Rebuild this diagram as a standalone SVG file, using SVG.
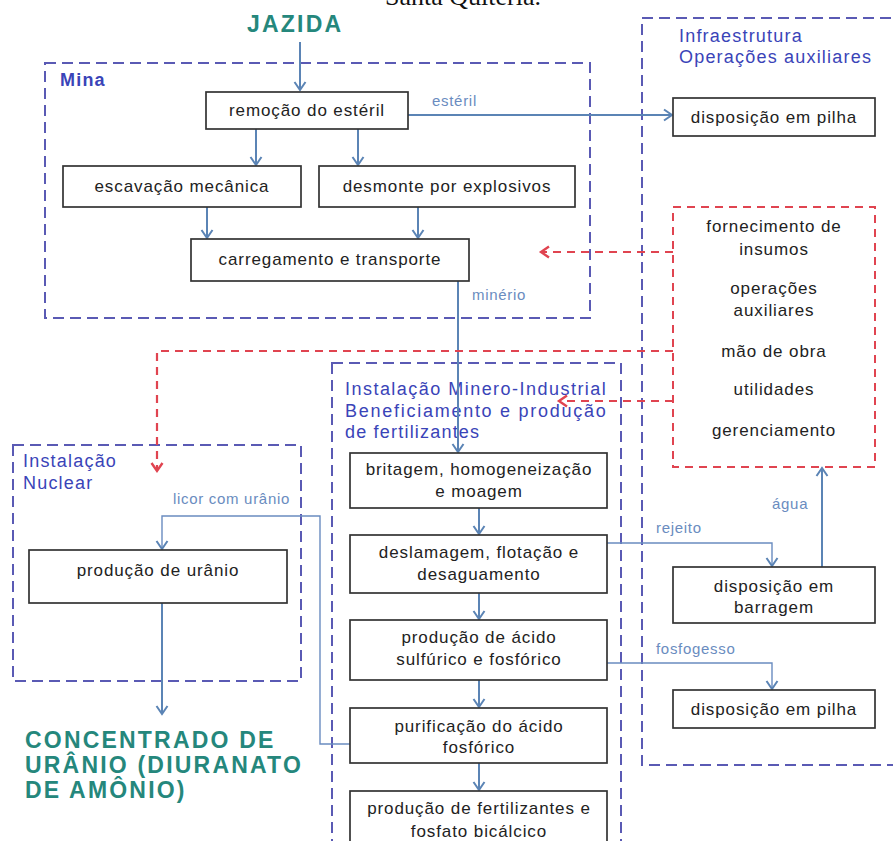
<svg xmlns="http://www.w3.org/2000/svg" width="893" height="841" viewBox="0 0 893 841">
<defs>
<style>
.box{fill:#fff;stroke:#333;stroke-width:1.7}
.grp{fill:none;stroke:#5a5ab4;stroke-width:2;stroke-dasharray:11 6}
.red{fill:none;stroke:#e04450;stroke-width:2;stroke-dasharray:8 6}
.t{font-family:"Liberation Sans",Arial,sans-serif;font-size:17px;letter-spacing:0.9px;fill:#222;text-anchor:middle}
.title{font-family:"Liberation Sans",Arial,sans-serif;font-size:18px;letter-spacing:1.2px;fill:#3a44b8}
.lbl{font-family:"Liberation Sans",Arial,sans-serif;font-size:15px;letter-spacing:0.7px;fill:#6a8cc0}
.big{font-family:"Liberation Sans",Arial,sans-serif;font-size:23px;font-weight:bold;letter-spacing:2.2px;fill:#25877c}
.c{fill:none;stroke:#5b84b5;stroke-width:2}
.c1{fill:none;stroke:#6a8cc0;stroke-width:1.4}
.cr{fill:none;stroke:#e04450;stroke-width:2.2;stroke-dasharray:8 6}
</style>
<marker id="a" markerUnits="userSpaceOnUse" markerWidth="14" markerHeight="14" refX="11" refY="7" orient="auto"><path d="M3,1.5 L11,7 L3,12.5" fill="none" stroke="#5b84b5" stroke-width="2"/></marker>
<marker id="ar" markerUnits="userSpaceOnUse" markerWidth="14" markerHeight="14" refX="11" refY="7" orient="auto"><path d="M3,1.5 L11,7 L3,12.5" fill="none" stroke="#e04450" stroke-width="2.4"/></marker>
</defs>
<rect width="893" height="841" fill="#fff"/>
<text x="385" y="5" font-family="Liberation Serif,serif" font-size="26" fill="#111">Santa Quitéria.</text>

<g id="groups">
<g id="mina"><rect class="grp" x="45" y="63" width="545" height="255"/><text class="title" x="60" y="86" font-weight="bold" fill="#2e3aa6">Mina</text></g>
<g id="infra"><rect class="grp" x="642" y="18" width="256" height="747" stroke="#6464d0"/><text class="title" x="679" y="42">Infraestrutura</text><text class="title" x="679" y="63">Operações auxiliares</text></g>
<g id="nuclear"><rect class="grp" x="13" y="445" width="288" height="236"/><text class="title" x="23" y="467">Instalação</text><text class="title" x="23" y="489">Nuclear</text></g>
<g id="minero"><rect class="grp" x="332" y="363" width="289" height="490"/><text class="title" x="345" y="395" textLength="262" lengthAdjust="spacing">Instalação Minero-Industrial</text><text class="title" x="345" y="417" textLength="262" lengthAdjust="spacing">Beneficiamento e produção</text><text class="title" x="345" y="438">de fertilizantes</text></g>
</g>

<g id="connectors">
<path class="c" d="M300,42 V90" marker-end="url(#a)"/>
<path class="c" d="M256,129 V165" marker-end="url(#a)"/>
<path class="c" d="M358,129 V165" marker-end="url(#a)"/>
<path class="c" d="M207,207 V238" marker-end="url(#a)"/>
<path class="c" d="M418,207 V238" marker-end="url(#a)"/>
<path class="c" d="M408,115 H672" marker-end="url(#a)"/>
<path class="c" d="M458,281 V452" marker-end="url(#a)"/>
<path class="c" d="M479,508 V534" marker-end="url(#a)"/>
<path class="c" d="M479,593 V619" marker-end="url(#a)"/>
<path class="c" d="M479,680 V707" marker-end="url(#a)"/>
<path class="c" d="M479,763 V790" marker-end="url(#a)"/>
<path class="c1" d="M607,543 H772 V566" marker-end="url(#a)"/>
<path class="c1" d="M607,663 H772 V689" marker-end="url(#a)"/>
<path class="c" d="M822,567 V468" marker-end="url(#a)"/>
<path class="c1" d="M350,744 H320 V516 H162 V549" marker-end="url(#a)"/>
<path class="c" d="M162,603 V714" marker-end="url(#a)"/>
<path class="cr" d="M673,252 H541" marker-end="url(#ar)"/>
<path class="cr" d="M673,351 H157 V471" marker-end="url(#ar)"/>
<path class="cr" d="M673,401 H559" marker-end="url(#ar)"/>
<text class="lbl" x="432" y="106">estéril</text>
<text class="lbl" x="472" y="300">minério</text>
<text class="lbl" x="656" y="533">rejeito</text>
<text class="lbl" x="656" y="654">fosfogesso</text>
<text class="lbl" x="772" y="509">água</text>
<text class="lbl" x="290" y="504" text-anchor="end">licor com urânio</text>
</g>

<g id="jazida"><text class="big" x="247" y="32">JAZIDA</text></g>
<g id="remocao"><rect class="box" x="206" y="92" width="202" height="37"/><text class="t" x="307" y="116">remoção do estéril</text></g>
<g id="escavacao"><rect class="box" x="63" y="166" width="238" height="41"/><text class="t" x="182" y="192">escavação mecânica</text></g>
<g id="desmonte"><rect class="box" x="319" y="166" width="256" height="41"/><text class="t" x="447" y="192">desmonte por explosivos</text></g>
<g id="carregamento"><rect class="box" x="191" y="239" width="278" height="42"/><text class="t" x="330" y="265">carregamento e transporte</text></g>
<g id="pilha1"><rect class="box" x="673" y="98" width="202" height="38"/><text class="t" x="774" y="123">disposição em pilha</text></g>
<g id="insumos"><rect class="red" x="673" y="207" width="202" height="260"/>
<text class="t" x="774" y="232">fornecimento de</text><text class="t" x="774" y="255">insumos</text>
<text class="t" x="774" y="294">operações</text><text class="t" x="774" y="316">auxiliares</text>
<text class="t" x="774" y="357">mão de obra</text><text class="t" x="774" y="395">utilidades</text><text class="t" x="774" y="436">gerenciamento</text></g>
<g id="britagem"><rect class="box" x="350" y="453" width="257" height="55"/><text class="t" x="479" y="475">britagem, homogeneização</text><text class="t" x="479" y="497">e moagem</text></g>
<g id="deslamagem"><rect class="box" x="350" y="535" width="257" height="58"/><text class="t" x="479" y="558">deslamagem, flotação e</text><text class="t" x="479" y="580">desaguamento</text></g>
<g id="acido"><rect class="box" x="350" y="620" width="257" height="60"/><text class="t" x="479" y="643">produção de ácido</text><text class="t" x="479" y="665">sulfúrico e fosfórico</text></g>
<g id="purificacao"><rect class="box" x="350" y="708" width="257" height="55"/><text class="t" x="479" y="732">purificação do ácido</text><text class="t" x="479" y="753">fosfórico</text></g>
<g id="fertilizantes"><rect class="box" x="350" y="791" width="257" height="60"/><text class="t" x="479" y="814">produção de fertilizantes e</text><text class="t" x="479" y="837">fosfato bicálcico</text></g>
<g id="barragem"><rect class="box" x="673" y="567" width="202" height="56"/><text class="t" x="774" y="592">disposição em</text><text class="t" x="774" y="613">barragem</text></g>
<g id="pilha2"><rect class="box" x="673" y="690" width="202" height="38"/><text class="t" x="774" y="715">disposição em pilha</text></g>
<g id="uranio"><rect class="box" x="29" y="550" width="258" height="53"/><text class="t" x="158" y="576">produção de urânio</text></g>
<g id="concentrado"><text class="big" x="25" y="748">CONCENTRADO DE</text><text class="big" x="25" y="773">URÂNIO (DIURANATO</text><text class="big" x="25" y="798">DE AMÔNIO)</text></g>
</svg>
